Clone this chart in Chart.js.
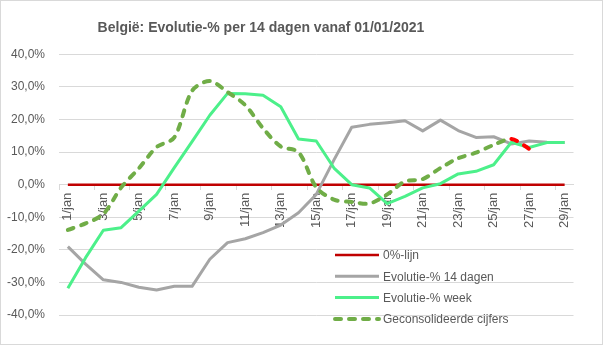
<!DOCTYPE html>
<html>
<head>
<meta charset="utf-8">
<script src="https://cdn.jsdelivr.net/npm/chart.js@4.4.1/dist/chart.umd.min.js"></script>
<style>
  body { margin: 0; background: #fff; }
  #wrap { width: 603px; height: 345px; }
</style>
</head>
<body>
<div id="wrap"><canvas id="lineGraph" width="603" height="345"></canvas></div>
<script>
// dagen januari 2021
const dagen = [
  "1/jan", "2/jan", "3/jan", "4/jan", "5/jan", "6/jan", "7/jan", "8/jan", "9/jan", "10/jan",
  "11/jan", "12/jan", "13/jan", "14/jan", "15/jan", "16/jan", "17/jan", "18/jan", "19/jan", "20/jan",
  "21/jan", "22/jan", "23/jan", "24/jan", "25/jan", "26/jan", "27/jan", "28/jan", "29/jan",
];

// in procent
const nulLijn = [0, 0, 0, 0, 0, 0, 0, 0, 0, 0, 0, 0, 0, 0, 0, 0, 0, 0, 0, 0, 0, 0, 0, 0, 0, 0, 0, 0, 0];
const evolutie14Dagen = [
  -19.0, -24.4, -29.2, -30.0, -31.5, -32.3, -31.2, -31.2, -22.9, -17.8,
  -16.6, -14.7, -12.4, -8.6, -3.0, 7.6, 17.6, 18.5, 19.0, 19.6,
  16.5, 19.8, 16.6, 14.5, 14.7, 12.5, 13.4, 13.0, 12.9,
];
const evolutieWeek = [
  -31.8, -22.4, -14.0, -13.2, -8.1, -3.0, 5.2, 13.2, 21.3, 28.0,
  27.9, 27.4, 23.9, 14.0, 13.4, 5.1, 0.0, -1.0, -5.8, -3.6,
  -1.0, 0.3, 3.3, 4.1, 6.1, 13.0, 11.4, 12.9, 12.9,
];
const geconsolideerd = [
  -13.9, -11.9, -9.0, -0.9, 5.0, 11.5, 14.5, 28.8, 31.8, 28.4,
  24.4, 17.3, 11.7, 10.0, -0.8, -4.6, -5.3, -5.8, -3.0, 1.0,
  1.7, 5.1, 8.1, 9.8, 12.2, 14.0, 11.0, null, null,
];
// laatste dag van de geconsolideerde cijfers is nog voorlopig
const voorlopigeDag = "27/jan";

const titel = "België: Evolutie-% per 14 dagen vanaf 01/01/2021";

const grijs = "#D9D9D9";
const tekst = "#595959";
const lettertype = "'Liberation Sans', Arial, sans-serif";

Chart.defaults.font.family = lettertype;
Chart.defaults.color = tekst;

// achtergrond, rand en titel van de grafiek
const kader = {
  id: "kader",
  beforeDraw(chart) {
    const { ctx, width, height } = chart;
    ctx.save();
    ctx.fillStyle = "#fff";
    ctx.fillRect(0, 0, width, height);
    ctx.strokeStyle = grijs;
    ctx.lineWidth = 1;
    ctx.strokeRect(0.5, 0.5, width - 1, height - 1);
    ctx.restore();
  },
  afterDraw(chart, args, opts) {
    const { ctx } = chart;
    ctx.save();
    ctx.font = "bold 14px " + lettertype;
    ctx.fillStyle = tekst;
    ctx.textAlign = "center";
    ctx.textBaseline = "middle";
    ctx.fillText(opts.tekst, opts.x, opts.y);
    ctx.restore();
  },
};

// legende rechtsonder in het grafiekvlak
const legendeBinnen = {
  id: "legendeBinnen",
  afterDraw(chart, args, opts) {
    const { ctx, chartArea } = chart;
    const x = chartArea.right - opts.right;
    let y = chartArea.bottom - opts.bottom;
    ctx.save();
    ctx.font = "12px " + lettertype;
    ctx.textBaseline = "middle";
    ctx.textAlign = "left";
    chart.data.datasets.forEach((ds) => {
      ctx.beginPath();
      ctx.strokeStyle = ds.borderColor;
      ctx.lineWidth = ds.borderWidth;
      ctx.setLineDash(ds.borderDash || []);
      ctx.lineCap = ds.borderCapStyle || "butt";
      ctx.moveTo(x, y);
      ctx.lineTo(x + opts.lineLength, y);
      ctx.stroke();
      ctx.setLineDash([]);
      ctx.fillStyle = tekst;
      ctx.fillText(ds.label, x + opts.lineLength + 4, y + 1);
      y += opts.rowHeight;
    });
    ctx.restore();
  },
};

const voorlopigIdx = dagen.indexOf(voorlopigeDag);

const config = {
  type: "line",
  data: {
    labels: dagen,
    datasets: [
      {
        label: "0%-lijn",
        data: nulLijn,
        borderColor: "#C00000",
        borderWidth: 2.5,
        order: 4,
      },
      {
        label: "Evolutie-% 14 dagen",
        data: evolutie14Dagen,
        borderColor: "#A5A5A5",
        borderWidth: 3,
        order: 3,
      },
      {
        label: "Evolutie-% week",
        data: evolutieWeek,
        borderColor: "#4CF08A",
        borderWidth: 3,
        order: 2,
      },
      {
        label: "Geconsolideerde cijfers",
        data: geconsolideerd,
        borderColor: "#70AD47",
        borderWidth: 4,
        borderDash: [6, 8],
        borderCapStyle: "round",
        tension: 0.3,
        order: 1,
        segment: {
          borderColor: (ctx) => (ctx.p1DataIndex === voorlopigIdx ? "#FF0000" : undefined),
        },
      },
    ],
  },
  options: {
    responsive: false,
    animation: false,
    devicePixelRatio: 1,
    elements: {
      point: { radius: 0 },
      line: { tension: 0, borderJoinStyle: "round" },
    },
    layout: {
      padding: { left: 0, right: 29.5, top: 54.3, bottom: 30 },
    },
    plugins: {
      legend: { display: false },
      tooltip: { enabled: false },
      title: { display: false },
      kader: { tekst: titel, x: 261, y: 28.5 },
      legendeBinnen: { right: 238.5, bottom: 60, rowHeight: 21.3, lineLength: 44 },
    },
    scales: {
      x: {
        type: "category",
        offset: true,
        position: { y: 0 },
        border: { display: true, color: grijs, width: 1 },
        grid: {
          offset: true,
          drawOnChartArea: false,
          drawTicks: true,
          tickLength: 5,
          color: (ctx) => (ctx.index % 2 === 0 ? grijs : "rgba(0,0,0,0)"),
        },
        ticks: {
          autoSkip: false,
          maxRotation: 90,
          minRotation: 90,
          padding: 3,
          color: tekst,
          font: { size: 13 },
          callback: function (val, i) {
            return i % 2 === 0 ? this.getLabelForValue(val) : "";
          },
        },
      },
      y: {
        min: -40,
        max: 40,
        border: { display: false },
        grid: { color: grijs, drawTicks: false },
        ticks: {
          stepSize: 10,
          padding: 14,
          color: tekst,
          font: { size: 12 },
          callback: (v) => v.toFixed(1).replace(".", ",") + "%",
        },
        afterFit: (scale) => {
          scale.width = 59;
        },
      },
    },
  },
  plugins: [kader, legendeBinnen],
};

new Chart(document.getElementById("lineGraph"), config);
</script>
</body>
</html>
